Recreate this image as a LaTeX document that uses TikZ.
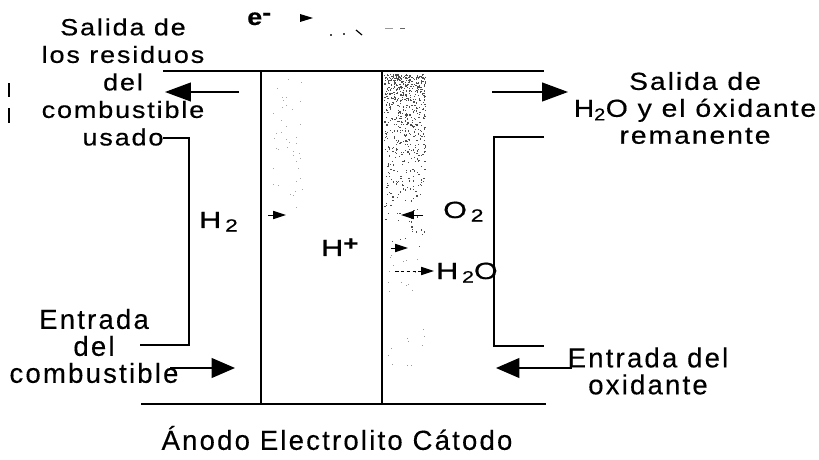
\documentclass[tikz,border=0pt]{standalone}
\usepackage{fontspec}
\setmainfont{Liberation Sans}[LetterSpace=8,FakeStretch=1.15,FakeBold=0.5]
\newfontfamily\tightfont{Liberation Sans}[LetterSpace=8,FakeBold=0.3]
\newfontfamily\chemfont{Liberation Sans}[FakeStretch=1.3,FakeBold=0.5]
\usetikzlibrary{arrows.meta}
\tikzset{
  x=0.03cm,y=-0.03cm,
  wall/.style={line width=1.3pt,black},
  bigarrow/.style={line width=1.2pt,-{Triangle[length=22pt,width=16pt]}},
  midarrow/.style={line width=1.2pt,-{Triangle[length=20pt,width=17pt]}},
  tinyarrow/.style={line width=.8pt,-{Triangle[length=11pt,width=7pt]}},
  lbl/.style={font=\fontsize{20}{23.5}\selectfont,align=center,inner sep=0pt},
  lblr/.style={font=\fontsize{21}{23}\selectfont,align=center,inner sep=0pt},
  lblb/.style={font=\fontsize{23.5}{23}\selectfont\tightfont,align=center,inner sep=0pt},
  chem/.style={font=\fontsize{20}{24}\selectfont\chemfont,inner sep=0pt},
  speck/.style={black!70},
}
\begin{document}
\begin{tikzpicture}
\useasboundingbox (0,0) rectangle (819,460);
\fill[white] (0,0) rectangle (819,460);
% stipple
\pgfmathsetseed{42}
\foreach \i in {1,...,620}{
  \pgfmathsetmacro{\px}{384+41*rnd}
  \pgfmathsetmacro{\py}{74+175*rnd*rnd}
  \fill[speck] (\px,\py) rectangle ++(1.2,1.2);
}
\foreach \i in {1,...,25}{
  \pgfmathsetmacro{\px}{384+41*rnd}
  \pgfmathsetmacro{\py}{250+120*rnd}
  \fill[black!40] (\px,\py) rectangle ++(1,1);
}
\foreach \i in {1,...,40}{
  \pgfmathsetmacro{\px}{272+30*rnd}
  \pgfmathsetmacro{\py}{78+130*rnd}
  \fill[black!35] (\px,\py) rectangle ++(1,1);
}
% marks at the top and left edge
\fill[black] (8,83) rectangle ++(1.6,14);
\fill[black] (8,108) rectangle ++(1.6,15);
\fill[black!70] (330,34) rectangle ++(2,2);
\fill[black!70] (343,33) rectangle ++(2,2);
\draw[line width=1pt] (356,30) -- (362,35);
\fill[black!40] (385,28) rectangle ++(8,1);
\fill[black!60] (400,28) rectangle ++(5,1.2);
% structure
\coordinate (tl) at (163,71); \coordinate (tr) at (544,71);
\coordinate (bl) at (141,404); \coordinate (br) at (546,404);
\coordinate (an) at (261,71); \coordinate (anb) at (261,404);
\coordinate (el) at (382,71); \coordinate (elb) at (382,404);
\draw[wall] (tl) -- (tr);
\draw[wall] (bl) -- (br);
\draw[wall] (an) -- (anb);
\draw[wall] (el) -- (elb);
\draw[wall] (163,138) -- (189,138) -- (189,345) -- (140,345);
\draw[wall] (544,137) -- (494,137) -- (494,346) -- (544,346);
% big arrows
\draw[bigarrow] (239,92) -- (165,92);
\draw[bigarrow] (492,92) -- (568,92);
\draw[midarrow] (170,368) -- (235,368);
\draw[midarrow] (572,368) -- (496,368);
% small arrows
\draw[tinyarrow] (268,215) -- (286,215);
\draw[tinyarrow] (423,215) -- (401,215);
\draw[tinyarrow] (391,248) -- (408,248);
\draw[tinyarrow,densely dashed] (395,271) -- (434,271);
\fill (300,14) -- (313,18) -- (300,22) -- cycle;
% labels
\node[lbl] at (123,82) {Salida de\\los residuos\\del\\combustible\\usado};
\node[lblr] at (695,108) {Salida de\\H\textsubscript{2}O y el óxidante\\remanente};
\node[lblb] at (94,346) {Entrada\\del\\combustible};
\node[lblb] at (648,371) {Entrada del\\oxidante};
\node[lblb] at (337,438) {Ánodo Electrolito Cátodo};
\node[chem,anchor=base west] at (199,228) {H\raisebox{-3pt}{\,\fontsize{15}{15}\selectfont 2}};
\node[chem,anchor=base west] at (443,218) {O\raisebox{-3pt}{\,\fontsize{15}{15}\selectfont 2}};
\node[chem,anchor=base west] at (321,256) {H\raisebox{5pt}{\fontsize{17}{17}\selectfont\textbf{+}}};
\node[chem,anchor=base west] at (436,279) {H\raisebox{-3pt}{\,\fontsize{14}{14}\selectfont 2}O};
\node[chem,anchor=base west,font=\fontsize{20}{20}\selectfont\bfseries] at (247,25) {e\raisebox{4pt}{-}};
\end{tikzpicture}
\end{document}
